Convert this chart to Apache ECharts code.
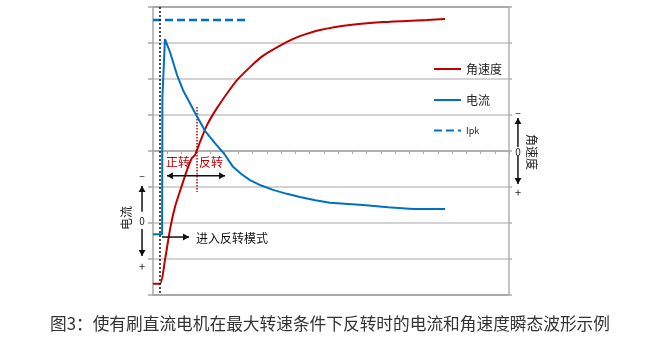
<!DOCTYPE html>
<html><head><meta charset="utf-8">
<script src="https://cdn.jsdelivr.net/npm/echarts@6/dist/echarts.min.js"></script>
<style>html,body{margin:0;padding:0;background:#fff}#c{width:660px;height:338px}</style>
</head><body><div id="c"></div>
<script>
// Data (x: time units, 25 ticks across plot; y: -4..4 grid units)
const speedData = [[0,-3.69],[0.49,-3.69],[0.84,-3.03],[1.19,-2.19],[1.54,-1.56],[2.04,-0.94],[2.39,-0.53],[2.74,-0.19],[2.95,-0.11],[3.3,0.25],[3.79,0.72],[4.49,1.19],[5.27,1.64],[5.9,1.97],[6.81,2.33],[7.51,2.58],[8.01,2.72],[9.41,3.03],[10.32,3.19],[11.73,3.36],[13.83,3.5],[16.15,3.58],[19.24,3.64],[20.51,3.67]];
const currentData = [[0,-2.31],[0.64,-2.31],[0.66,1.5],[0.84,3.11],[1.19,2.75],[1.69,2.11],[2.11,1.69],[2.95,1.06],[3.65,0.56],[4.35,0.22],[5.06,-0.11],[5.62,-0.44],[6.2,-0.64],[6.81,-0.81],[7.6,-0.96],[8.43,-1.08],[9.4,-1.19],[10.32,-1.28],[11.4,-1.37],[12.43,-1.44],[14.75,-1.5],[16.5,-1.56],[18.26,-1.61],[20.51,-1.61]];
const ipkData = [[0,3.64],[6.6,3.64]];
const startLine = [[0.49,4],[0.49,-4]];
const reverseLine = [[3.09,1.22],[3.09,-1.14]];
const seriesNames = ['角速度','电流','Ipk'];
const titleText = '图3：使有刷直流电机在最大转速条件下反转时的电流和角速度瞬态波形示例';

const RED = '#c00000', BLUE = '#0070c0';
const FONT = '"Noto Sans CJK SC","Noto Sans",sans-serif';
const chart = echarts.init(document.getElementById('c'), null, {renderer:'canvas'});
const gridColors = ['#8c8c8c','#c4c4c4','#c4c4c4','#c4c4c4','#c4c4c4','#c4c4c4','#c4c4c4','#c4c4c4','#8c8c8c'];
const option = {
  animation:false,
  textStyle:{fontFamily:FONT},
  title:{text:titleText,left:'center',top:310,textStyle:{fontFamily:FONT,fontSize:16.7,fontWeight:'normal',color:'#333'}},
  grid:{left:153,top:7,width:356,height:288},
  legend:{
    data:seriesNames, orient:'vertical', left:428, top:58, itemWidth:27, itemHeight:14, itemGap:19,
    itemStyle:{opacity:0},
    textStyle:{fontFamily:FONT,fontSize:12,color:'#222',rich:{s:{fontSize:9,color:'#222',fontFamily:FONT}}},
    formatter:n=> n==='Ipk' ? '{s|Ipk}' : n
  },
  xAxis:{type:'value',min:0,max:25,interval:1,
    axisLine:{onZero:true,lineStyle:{color:'#a6a6a6',width:1.5}},
    axisTick:{show:true,length:3,lineStyle:{color:'#a6a6a6'}},
    axisLabel:{show:false},splitLine:{show:false}},
  yAxis:[{type:'value',min:-4,max:4,interval:1,
    axisLine:{show:true,lineStyle:{color:'#a6a6a6',width:1.5}},
    axisTick:{show:true,length:5,lineStyle:{color:'#a6a6a6',width:1.5}},
    axisLabel:{show:false},
    splitLine:{show:true,lineStyle:{color:gridColors,width:1.5}}},
   {type:'value',min:-4,max:4,interval:1,position:'right',
    axisLine:{show:true,lineStyle:{color:'#b0b0b0',width:1.5}},
    axisTick:{show:true,length:3,lineStyle:{color:'#b0b0b0',width:1.5}},
    axisLabel:{show:false},splitLine:{show:false}}],
  series:[
    {name:'角速度',type:'line',data:speedData,symbol:'none',smooth:0.25,lineStyle:{color:RED,width:2},itemStyle:{color:RED},z:4},
    {name:'电流',type:'line',data:currentData,symbol:'none',smooth:false,lineStyle:{color:BLUE,width:2},itemStyle:{color:BLUE},z:5},
    {name:'Ipk',type:'line',data:ipkData,symbol:'none',lineStyle:{color:BLUE,width:2.5,type:[8,4]},itemStyle:{color:BLUE},z:3},
    {name:'start',type:'line',data:startLine,symbol:'none',lineStyle:{color:'#111',width:1.5,type:[2,2]},z:6},
    {name:'reverse',type:'line',data:reverseLine,symbol:'none',lineStyle:{color:RED,width:1.5,type:[1.5,1.5]},z:3}
  ]
};
chart.setOption(option);

// Annotations placed in data coordinates
const P = (x,y)=>chart.convertToPixel({gridIndex:0},[x,y]);
function head(tip, from, color){
  const dx=tip[0]-from[0], dy=tip[1]-from[1], L=Math.hypot(dx,dy), ux=dx/L, uy=dy/L;
  const hl=6, hw=3.5, bx=tip[0]-ux*hl, by=tip[1]-uy*hl;
  return {type:'polygon',shape:{points:[tip,[bx-uy*hw,by+ux*hw],[bx+uy*hw,by-ux*hw]]},style:{fill:color},z:20};
}
function arrow(a,b,color,both){
  const p1=P(a[0],a[1]), p2=P(b[0],b[1]);
  const els=[{type:'line',shape:{x1:p1[0],y1:p1[1],x2:p2[0],y2:p2[1]},style:{stroke:color,lineWidth:1.5},z:20}, head(p2,p1,color)];
  if(both) els.push(head(p1,p2,color));
  return els;
}
function txt(x,y,t,size,color,rot,align){
  const p=P(x,y);
  return {type:'text',x:p[0],y:p[1],rotation:rot||0,style:{text:t,fontSize:size,fill:color,font:size+'px '+FONT,fontFamily:FONT,align:align||'center',verticalAlign:'middle'},z:20};
}
const g=[];
// left current axis annotation
g.push(txt(-0.77,-0.69,'−',10,'#222'));
g.push(...arrow([-0.77,-1.69],[-0.77,-0.97],'#111'));
g.push(txt(-0.77,-1.94,'0',10,'#222'));
g.push(...arrow([-0.77,-2.17],[-0.77,-2.92],'#111'));
g.push(txt(-0.77,-3.22,'+',11,'#222'));
g.push(txt(-1.9,-1.86,'电流',12,'#222',Math.PI/2));
// right speed axis annotation
g.push(txt(25.63,1.05,'−',10,'#222'));
g.push(...arrow([25.63,0.11],[25.63,0.92],'#111'));
g.push(txt(25.63,-0.03,'0',10,'#222'));
g.push(...arrow([25.63,-0.14],[25.63,-0.92],'#111'));
g.push(txt(25.63,-1.17,'+',11,'#222'));
g.push(txt(26.6,-0.03,'角速度',12,'#222',-Math.PI/2));
// in-plot annotations
g.push(txt(1.76,-0.31,'正转',12,RED));
g.push(txt(4.07,-0.31,'反转',12,RED));
g.push(...arrow([0.98,-0.69],[5.06,-0.69],'#111',true));
g.push(...arrow([0.63,-2.39],[2.53,-2.39],'#111'));
g.push(txt(3.02,-2.42,'进入反转模式',12,'#111',0,'left'));
chart.setOption({graphic:g});
</script></body></html>
